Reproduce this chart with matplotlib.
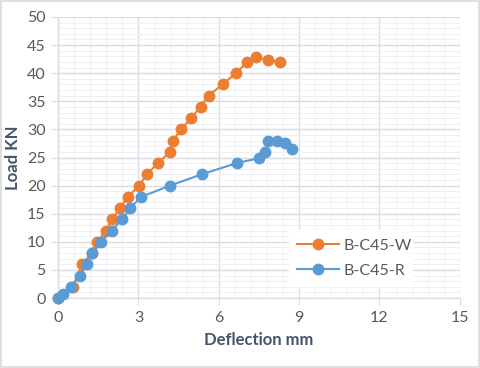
import matplotlib
matplotlib.use("Agg")
import matplotlib.pyplot as plt
from matplotlib.patches import Rectangle

plt.rcParams['font.family'] = ['Lato', 'DejaVu Sans']

# B-C45-W (orange)
w_defl = [0, 0.55, 0.9, 1.25, 1.47, 1.78, 2.03, 2.31, 2.6, 3.03, 3.31, 3.73, 4.18, 4.28,
          4.6, 4.96, 5.32, 5.62, 6.14, 6.64, 7.07, 7.39, 7.85, 8.28]
w_load = [0, 2, 6, 8, 10, 12, 14, 16, 18, 20, 22, 24, 26, 28,
          30, 32, 34, 36, 38, 40, 42, 42.9, 42.3, 42.0]

# B-C45-R (blue)
r_defl = [0, 0.2, 0.49, 0.8, 1.09, 1.28, 1.59, 2.0, 2.4, 2.69, 3.1, 4.18, 5.36, 6.67,
          7.51, 7.72, 7.85, 8.18, 8.49, 8.72]
r_load = [0, 0.8, 2, 4, 6, 8, 10, 12, 14, 16, 18, 20, 22, 24,
          24.9, 26, 27.9, 27.9, 27.5, 26.5]

xticks = [0, 3, 6, 9, 12, 15]
yticks = [0, 5, 10, 15, 20, 25, 30, 35, 40, 45, 50]

orange = '#ED7D31'
blue = '#5B9BD5'
grid_c = '#D9DCE3'
text_c = '#595959'
label_c = '#44546A'

fig = plt.figure(figsize=(4.8, 3.68), dpi=100)
fig.patches.append(Rectangle((0.002, 0.003), 0.996, 0.994, transform=fig.transFigure,
                             fill=False, edgecolor='#D9D9D9', linewidth=1.2))
ax = fig.add_axes([0.121, 0.19, 0.837, 0.764])

ax.plot(r_defl, r_load, '-o', color=blue, markersize=7.5, linewidth=1.5,
        label='B-C45-R', zorder=3, clip_on=False)
ax.plot(w_defl, w_load, '-o', color=orange, markersize=7.5, linewidth=1.5,
        label='B-C45-W', zorder=2, clip_on=False)

ax.set_xlim(0, 15)
ax.set_ylim(0, 50)
ax.set_xticks(xticks)
ax.set_yticks(yticks)
ax.set_xticks([i * 0.6 for i in range(26)], minor=True)
ax.set_yticks(range(51), minor=True)
ax.grid(which='major', color=grid_c, linewidth=1.0, zorder=0)
ax.grid(which='minor', color='#EEF0F4', linewidth=0.7, zorder=0)
ax.set_axisbelow(True)

for s in ['top', 'right']:
    ax.spines[s].set_visible(False)
for s in ['left', 'bottom']:
    ax.spines[s].set_color(grid_c)
    ax.spines[s].set_linewidth(1.0)

ax.tick_params(which='major', length=5, color=grid_c, labelcolor=text_c, labelsize=11.5, pad=4)
ax.tick_params(which='minor', length=0)

ax.set_xlabel('Deflection mm', fontsize=12, fontweight='bold', color=label_c, labelpad=5)
ax.set_ylabel('Load KN', fontsize=12, fontweight='bold', color=label_c, labelpad=4)

h, l = ax.get_legend_handles_labels()
leg = ax.legend(h[::-1], l[::-1], loc='lower left', bbox_to_anchor=(0.555, 0.015, 0.345, 0.19),
                mode='expand', frameon=True, fontsize=11.5, handlelength=2.6,
                labelspacing=0.7, borderpad=0.5, handletextpad=0.3, fancybox=False)
leg.get_frame().set_edgecolor('white')
leg.get_frame().set_facecolor('white')
leg.get_frame().set_alpha(1)
leg.set_zorder(5)
for t in leg.get_texts():
    t.set_color(text_c)

fig.savefig('out.png', dpi=100)
